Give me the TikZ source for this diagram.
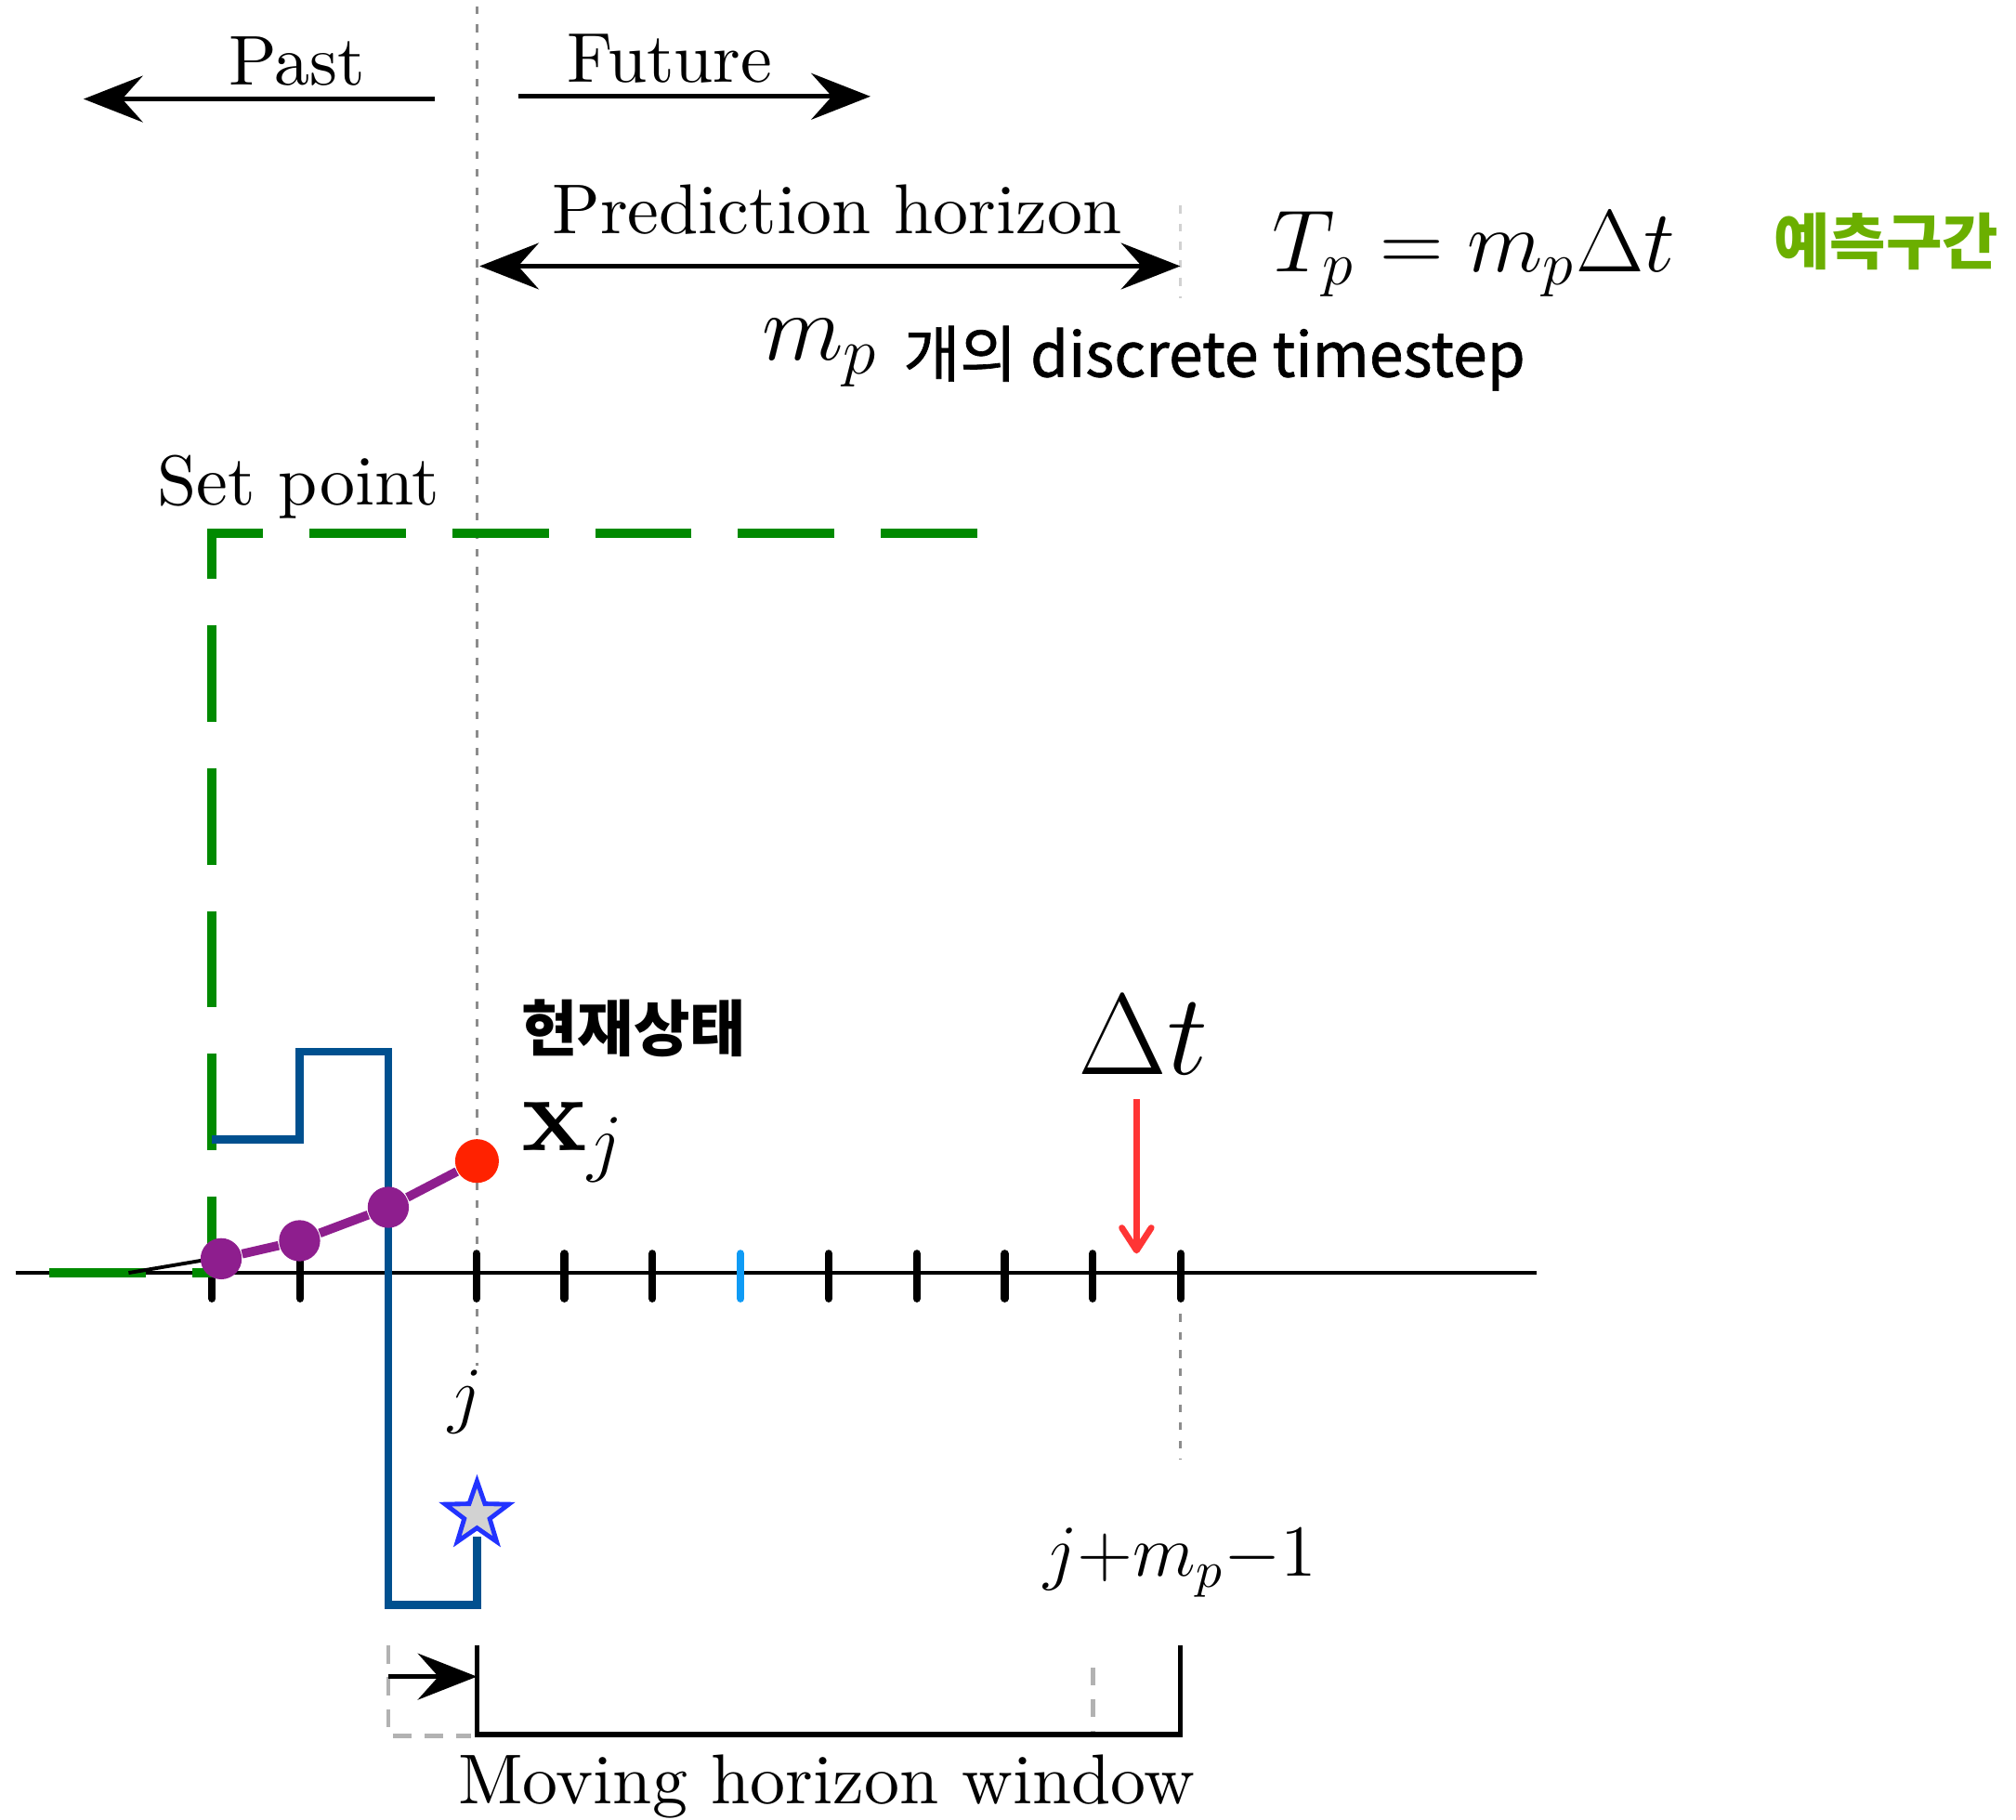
\documentclass[tikz,border=0pt]{standalone}
\usepackage{fix-cm}
\usepackage{amsmath}
\usepackage{fontspec}
\setmainfont{lmroman10-regular}[Extension=.otf,BoldFont=lmroman10-bold,ItalicFont=lmroman10-italic]
\newfontfamily\krfont{Noto Sans CJK KR}
\newfontfamily\krsemi{Noto Sans CJK KR}[FakeBold=1.0]
\usepackage{tikz}
\usetikzlibrary{arrows.meta,positioning,shapes.geometric}
\definecolor{mhsp}{HTML}{008A00}
\definecolor{mhkr}{HTML}{6BAF00}
\definecolor{mhin}{HTML}{00508F}
\definecolor{mhtick}{HTML}{0F9BF5}
\definecolor{mhst}{HTML}{8E1E8E}
\definecolor{mhnow}{HTML}{FF2200}
\definecolor{mhdt}{HTML}{FF3535}
\definecolor{mhstar}{HTML}{2233FF}
\definecolor{mhguide}{HTML}{8C8C8C}
\tikzset{
  lbl/.style={font=\fontsize{15.6}{18}\selectfont,inner sep=0pt,anchor=base},
  mlbl/.style={inner sep=0pt,anchor=base},
  krlbl/.style={font=\krfont\bfseries\fontsize{13.5}{16}\selectfont,inner sep=0pt},
  bigarr/.style={-{Stealth[length=0.46cm,width=0.36cm,inset=0.16cm]},line width=1.1pt},
  dblarr/.style={{Stealth[length=0.46cm,width=0.36cm,inset=0.16cm]}-{Stealth[length=0.46cm,width=0.36cm,inset=0.16cm]},line width=1.1pt},
  guide/.style={draw=mhguide,line width=0.6pt,dash pattern=on 1.7pt off 2.3pt},
  tickmark/.style={line width=1.7pt,line cap=round},
  stdot/.style={circle,fill=mhst,minimum size=0.32cm,inner sep=0pt},
  setp/.style={draw=mhsp,line width=2pt,dash pattern=on 0.75cm off 0.36cm},
  inp/.style={draw=mhin,line width=1.8pt,line join=miter},
  win/.style={line width=1.1pt},
  winghost/.style={draw=gray!60,line width=1pt,dash pattern=on 4pt off 3pt},
}

\begin{document}
\begin{tikzpicture}[x=0.01cm,y=-0.01cm]
  \useasboundingbox (0,0) rectangle (1568,1415);

  % time guides
  \draw[guide] (371,5) -- (371,1062);
  \draw[guide] (918,1022) -- (918,1135);
  \draw[guide,draw=mhguide!40] (918,160) -- (918,232);

  % time axis
  \draw[line width=0.9pt] (12,990) -- (1195,990);
  \foreach \k in {0,1,2,3,4,5,7,8,9,10,11}
    \draw[tickmark] ({165+68.5*\k},975) -- ({165+68.5*\k},1010);
  \draw[tickmark,mhtick] (576,975) -- (576,1010);

  % set point
  \draw[setp] (760,415) -- (165,415) -- (165,990) -- (35,990);
  \draw[line width=0.8pt] (100,990) -- (165,979);

  % control input
  \draw[inp] (165,886) -- (233,886) -- (233,818) -- (302,818) -- (302,1248) -- (371,1248) -- (371,1195);
  \node[star,star points=5,star point ratio=2.5,minimum size=0.52cm,inner sep=0pt,
        draw=mhstar,line width=1pt,fill=gray!35] (uopt) at (371,1178) {};

  % states
  \node[stdot] (s1) at (172,979) {};
  \node[stdot] (s2) at (233,965) {};
  \node[stdot] (s3) at (302,939) {};
  \node[circle,fill=mhnow,minimum size=0.34cm,inner sep=0pt] (xnow) at (371,903) {};
  \draw[mhst,line width=2pt] (s1) -- (s2) -- (s3) -- (xnow);

  % past / future
  \node[lbl] (past) at (231,66) {Past};
  \node[lbl] (future) at (521,64) {Future};
  \coordinate (pastR) at (338,77);
  \coordinate (pastL) at (65,77);
  \coordinate (futL) at (403,75);
  \coordinate (futR) at (677,75);
  \draw[bigarr] (pastR) -- (pastL);
  \draw[bigarr] (futL) -- (futR);

  % prediction horizon
  \node[lbl] (predlbl) at (651,182) {Prediction horizon};
  \coordinate (phL) at (373,207);
  \coordinate (phR) at (918,207);
  \draw[dblarr] (phL) -- (phR);
  \node[mlbl,font=\fontsize{19.5}{22}\selectfont] (tpeq) at (1146,211) {$T_p = m_p\Delta t$};
  \node[krlbl,text=mhkr] (tpkr) at (1467,188) {예측구간};
  \node[mlbl,anchor=base west,font=\fontsize{21}{24}\selectfont] (mpsym) at (592,280) {$m_p$};
  \node[anchor=base west,inner sep=0pt,font=\krsemi\fontsize{13.6}{16}\selectfont] (steptxt) at (702,293) {개의 discrete timestep};

  \node[lbl] (setlbl) at (232,393) {Set point};
  \node[krlbl] (nowkr) at (493,800) {현재상태};
  \node[mlbl,anchor=base west,font=\fontsize{24}{28}\selectfont] (xjlbl) at (405,895) {$\mathbf{x}_j$};

  % sampling interval
  \node[mlbl,font=\fontsize{25.5}{30}\selectfont] (dtlbl) at (889,836) {$\Delta t$};
  \coordinate (dtTop) at (884,855);
  \coordinate (dtTip) at (884,975);
  \draw[-{Straight Barb[round,length=5pt,width=6.5pt]},mhdt,line width=1.4pt] (dtTop) -- (dtTip);

  \node[mlbl,font=\fontsize{16.5}{20}\selectfont] (jlbl) at (362,1104) {$j$};
  \node[mlbl,font=\fontsize{16.2}{20}\selectfont] (jendlbl) at (918,1226) {$j{+}m_p{-}1$};

  % moving horizon window
  \coordinate (wL) at (371,1280);
  \coordinate (wR) at (918,1280);
  \draw[win] (wL) -- ++(0,69) -| (wR);
  \draw[winghost] (302,1280) -- (302,1350) -- (366,1350);
  \draw[winghost] (850,1297) -- (850,1347);
  \coordinate (shiftL) at (302,1304);
  \draw[bigarr] (shiftL) -- (wL |- shiftL);
  \node[lbl] (mhlbl) at (643,1403) {Moving horizon window};
\end{tikzpicture}
\end{document}
